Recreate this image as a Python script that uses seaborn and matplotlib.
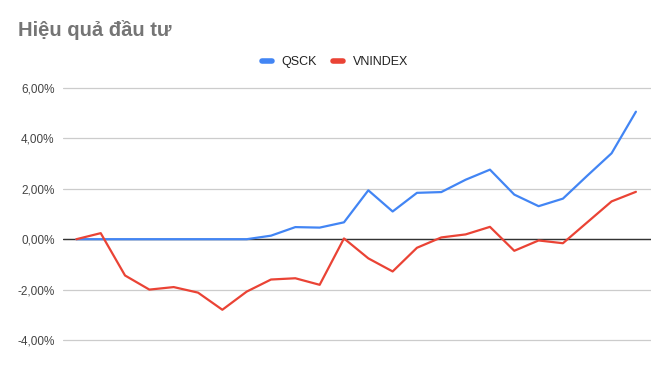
import numpy as np
import pandas as pd
import matplotlib
matplotlib.use("Agg")
import matplotlib.pyplot as plt
import seaborn as sns
from matplotlib.ticker import FuncFormatter
from matplotlib.lines import Line2D

title = "Hiệu quả đầu tư"
series_names = ["QSCK", "VNINDEX"]
qsck = [0.0, 0.0, 0.0, 0.0, 0.0, 0.0, 0.0, 0.0, 0.14, 0.48, 0.46, 0.67,
        1.94, 1.10, 1.84, 1.87, 2.36, 2.76, 1.77, 1.31, 1.61, 2.52, 3.41, 5.06]
vnindex = [0.0, 0.24, -1.44, -2.0, -1.9, -2.12, -2.8, -2.08, -1.6, -1.55, -1.81, 0.03,
           -0.76, -1.28, -0.34, 0.07, 0.19, 0.49, -0.46, -0.05, -0.16, 0.67, 1.5, 1.88]
y_ticks = [-4, -2, 0, 2, 4, 6]

n = len(qsck)
df = pd.DataFrame({
    "idx": list(range(n)) * 2,
    "value": [v / 100 for v in qsck] + [v / 100 for v in vnindex],
    "series": [series_names[0]] * n + [series_names[1]] * n,
})

sns.set_theme(style="white")
plt.rcParams['font.family'] = ['Liberation Sans', 'DejaVu Sans']

fig = plt.figure(figsize=(6.67, 3.66), dpi=100)
# axes covers y from -4.2% to 6.2%
px_per_pct = (340 - 88) / 10.0
top_px = 88 - 0.2 * px_per_pct
bot_px = 340 + 0.2 * px_per_pct
ax = fig.add_axes([63/667, 1 - bot_px/366, (651 - 63)/667, (bot_px - top_px)/366])

palette = {"QSCK": "#4285F4", "VNINDEX": "#EA4335"}
sns.lineplot(data=df, x="idx", y="value", hue="series", palette=palette,
             linewidth=1.6, ax=ax, legend=False, zorder=3)

ax.set_ylim(-0.042, 0.062)
ax.set_xlim(-0.55, n - 1 + 0.62)
ax.set_yticks([t / 100 for t in y_ticks])
ax.yaxis.set_major_formatter(FuncFormatter(lambda v, p: f"{v*100:.2f}%".replace(".", ",")))
ax.set_xticks([])
ax.set_xlabel("")
ax.set_ylabel("")
for s in ax.spines.values():
    s.set_visible(False)
ax.grid(axis="y", color="#cccccc", linewidth=0.9, zorder=0)
ax.axhline(0, color="#333333", linewidth=1.0, zorder=2)
ax.tick_params(axis="y", length=0, pad=6, labelsize=8.5, labelcolor="#444444")

fig.text(18/667, 1 - 30/366, title, fontsize=14.5, fontweight="bold",
         color="#757575", va="center", ha="left")

handles = [Line2D([0], [0], color=palette[s], linewidth=4, solid_capstyle="round") for s in series_names]
fig.legend(handles, series_names, loc="center", bbox_to_anchor=(335/667, 1 - 62/366),
           ncol=2, frameon=False, fontsize=9, handlelength=0.8, handletextpad=0.8,
           columnspacing=1.3, labelcolor="#222222")

fig.savefig("out.png", dpi=100)
